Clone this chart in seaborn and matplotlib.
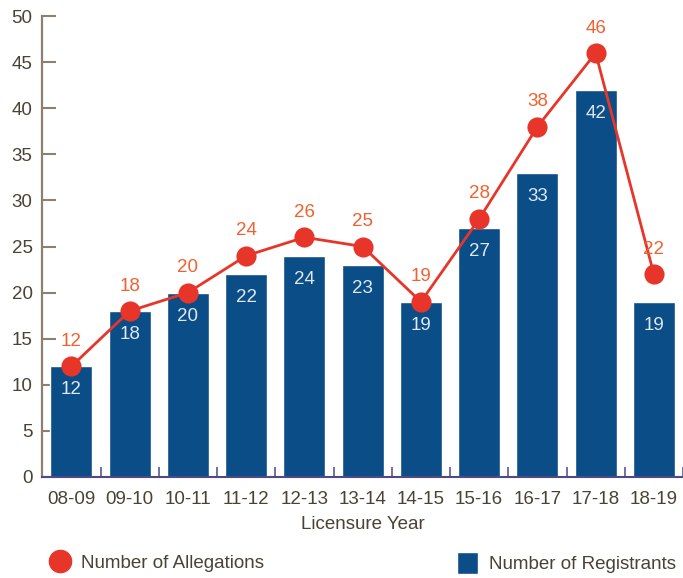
import numpy as np
import pandas as pd
import matplotlib
matplotlib.use('Agg')
import matplotlib.pyplot as plt
from matplotlib.lines import Line2D
from matplotlib.patches import Patch
import seaborn as sns

# chart data
years = ['08-09', '09-10', '10-11', '11-12', '12-13', '13-14', '14-15', '15-16', '16-17', '17-18', '18-19']
registrants = [12, 18, 20, 22, 24, 23, 19, 27, 33, 42, 19]
allegations = [12, 18, 20, 24, 26, 25, 19, 28, 38, 46, 22]

df = pd.DataFrame({'Year': years, 'Registrants': registrants, 'Allegations': allegations})

sns.set_style('white')
plt.rcParams['font.family'] = ['Liberation Sans', 'DejaVu Sans']

bar_blue = '#0b4d87'
line_red = '#e8352a'
label_red = '#f2602f'
text_col = '#4a4234'
axis_col = '#8c8170'
fs = 13.5

fig, ax = plt.subplots(figsize=(6.83, 5.78), dpi=100)
fig.subplots_adjust(left=0.062, right=1.0, top=0.972, bottom=0.175)

sns.barplot(data=df, x='Year', y='Registrants', color=bar_blue, width=0.72,
            saturation=1, ax=ax, zorder=2)
sns.pointplot(data=df, x='Year', y='Allegations', color=line_red, markers='o',
              markersize=13, linewidth=2, ax=ax)
for coll in ax.collections:
    coll.set_zorder(4)
for ln in ax.lines:
    ln.set_zorder(3)

# bar value labels
for i, v in enumerate(registrants):
    ax.annotate(str(v), (i, v), xytext=(0, -17), textcoords='offset points',
                ha='center', va='center', color='#dfe8f2', fontsize=fs)
# allegation value labels
for i, v in enumerate(allegations):
    ax.annotate(str(v), (i, v), xytext=(0, 18), textcoords='offset points',
                ha='center', va='center', color=label_red, fontsize=fs)

ax.set_ylim(0, 50)
ax.set_xlim(-0.5, 10.5)
ax.set_yticks(range(0, 51, 5))
ax.set_xticks(np.arange(-0.5, 11, 1), minor=True)

ax.tick_params(axis='y', left=True, direction='in', length=10, width=1.5, color=axis_col,
               labelsize=fs, labelcolor=text_col, pad=7)
ax.tick_params(axis='x', which='major', length=0, labelsize=fs, labelcolor=text_col, pad=10)
ax.tick_params(axis='x', which='minor', bottom=True, direction='in', length=7, width=1.2,
               color='#5a5590')

for side in ['top', 'right']:
    ax.spines[side].set_visible(False)
ax.spines['left'].set_color(axis_col)
ax.spines['left'].set_linewidth(1.6)
ax.spines['bottom'].set_color('#4f4a86')
ax.spines['bottom'].set_linewidth(1.5)

ax.set_xlabel('Licensure Year', fontsize=fs, color=text_col, labelpad=6)
ax.set_ylabel('')

h1 = Line2D([], [], marker='o', color='none', markerfacecolor=line_red,
            markeredgecolor=line_red, markersize=16, label='Number of Allegations')
h2 = Patch(facecolor=bar_blue, label='Number of Registrants')
leg1 = fig.legend(handles=[h1], loc='center left', bbox_to_anchor=(0.072, 0.026),
                  frameon=False, fontsize=fs, handlelength=1.2, handletextpad=0.5,
                  borderpad=0, borderaxespad=0, labelcolor=text_col)
fig.legend(handles=[h2], loc='center left', bbox_to_anchor=(0.669, 0.026),
           frameon=False, fontsize=fs, handlelength=1.1, handleheight=1.5,
           handletextpad=0.6, borderpad=0, borderaxespad=0, labelcolor=text_col)

fig.savefig('out.png', dpi=100)
